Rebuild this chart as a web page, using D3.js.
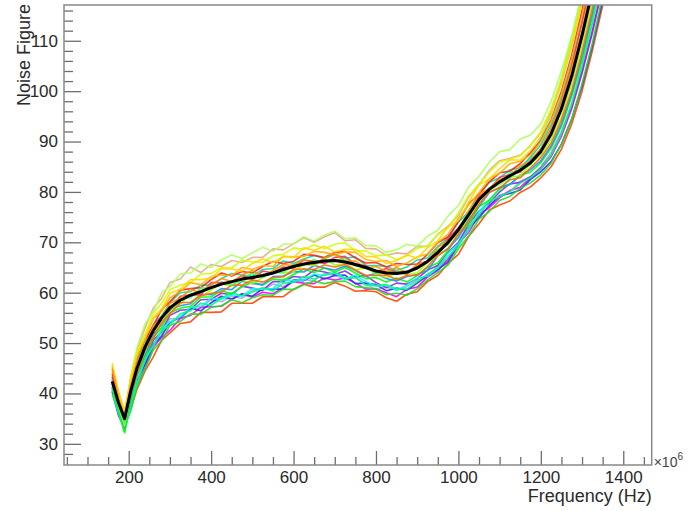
<!DOCTYPE html>
<html><head><meta charset="utf-8">
<script src="https://cdn.jsdelivr.net/npm/d3@7/dist/d3.min.js"></script>
<style>body{margin:0;background:#fff}svg{display:block}text{font-family:"Liberation Sans",Arial,Helvetica,sans-serif}</style>
</head><body><svg id="c" width="692" height="511"></svg>
<script>
// ---- data ----
const freqs = [160,175,190,205,220,240,260,280,300,325,350,375,400,425,450,475,500,525,550,575,600,625,650,675,700,725,750,775,800,825,850,875,900,925,950,975,1000,1025,1050,1075,1100,1125,1150,1175,1200,1225,1250,1275,1300,1325,1350];
const meanNF = [42.4,38.2,35.0,40.5,45.0,49.3,52.5,55.0,57.0,58.5,59.5,60.2,61.0,61.7,62.2,62.7,63.0,63.4,63.9,64.6,65.2,65.7,66.0,66.3,66.4,66.1,65.6,65.0,64.3,63.9,63.8,64.1,64.9,66.2,68.0,70.0,72.5,75.5,78.5,80.5,82.0,83.2,84.3,85.8,88.0,91.5,96.5,103.0,111.0,120.0,130.0];
const traceRed = [43.9,40.0,36.2,42.1,46.9,50.7,53.5,56.7,58.2,60.5,60.8,61.0,62.6,63.9,63.3,64.2,63.9,65.2,66.2,65.8,66.2,67.6,67.4,67.0,68.0,68.2,66.9,65.9,66.0,65.1,65.8,65.6,65.7,67.6,69.9,71.1,74.1,77.7,79.5,82.0,83.8,84.1,85.6,87.8,90.2,94.3,100.0,107.2,116.0,125.5,136.0];
const traceOrange = [44.9,39.2,35.3,41.7,45.8,49.5,53.5,54.8,57.9,58.9,60.7,59.9,61.6,62.8,62.2,63.5,64.4,63.2,64.4,65.6,65.4,66.6,65.6,66.9,67.7,66.2,66.3,64.9,65.2,64.2,65.0,63.9,65.5,66.2,69.0,70.4,72.2,76.3,79.6,80.7,82.5,83.1,85.2,86.1,88.6,92.5,97.7,104.5,112.0,122.0,131.5];
const traceYellow = [46.0,40.2,36.5,43.0,47.8,51.3,55.1,56.8,59.9,60.7,62.6,62.6,62.9,64.7,64.7,64.3,65.8,66.7,66.0,67.2,67.0,68.9,68.4,69.2,68.1,68.6,68.6,67.2,67.1,65.8,66.4,67.5,66.9,68.9,70.3,73.1,74.3,78.0,81.4,82.6,84.6,86.4,86.3,88.2,91.0,95.5,101.5,109.0,117.5,127.0,137.5];
const traceLime = [41.9,37.4,33.5,39.9,44.8,48.4,52.2,53.9,56.6,57.7,59.7,59.2,60.5,61.8,61.3,62.5,61.8,63.0,64.2,63.9,64.2,65.6,65.4,66.7,65.5,65.8,64.5,65.0,63.7,63.0,63.9,63.6,63.9,66.0,67.3,70.2,71.7,75.1,77.5,80.5,81.4,82.9,83.2,85.6,87.2,90.5,95.0,101.5,109.0,118.0,127.5];
const traceGreen = [41.4,36.7,32.2,38.7,43.8,47.3,51.1,53.1,56.0,56.9,57.3,59.1,59.2,60.4,59.8,61.2,62.1,61.5,62.7,62.5,63.6,64.7,64.0,64.9,64.1,65.0,63.9,62.8,63.0,62.1,62.9,62.1,63.4,65.0,65.9,68.4,71.5,73.6,77.1,78.3,80.7,81.5,83.3,83.9,85.8,88.7,93.0,99.0,106.2,114.8,124.4];
const traceTeal = [43.2,38.7,35.0,41.4,46.4,49.9,53.7,55.4,58.0,60.0,60.2,61.5,61.5,62.8,63.8,63.5,63.3,64.6,64.8,66.3,65.8,66.7,67.4,66.8,67.6,66.9,67.1,65.4,65.4,65.2,64.4,65.1,66.5,66.9,69.2,70.9,74.0,76.1,79.6,81.9,82.8,84.4,84.8,86.8,89.4,93.3,98.8,105.8,114.0,123.5,133.8];
const traceCyan = [40.9,36.2,32.5,37.7,43.0,46.7,49.5,52.8,54.2,55.2,57.1,57.3,58.9,58.7,59.6,59.3,60.8,60.7,60.8,62.6,62.4,62.5,63.7,63.4,63.9,62.6,63.5,62.2,61.3,61.5,60.5,61.5,62.9,63.3,64.9,67.8,69.7,72.5,76.0,78.5,80.5,82.7,84.6,87.0,90.5,95.5,102.5,110.5,119.5,129.5,140.0];
const traceBlue = [40.4,35.7,33.0,37.3,42.5,45.8,49.7,51.4,54.1,55.1,56.9,56.4,58.0,59.3,58.7,59.8,59.3,60.8,60.7,60.7,62.5,62.4,63.5,62.7,63.4,63.5,61.8,61.9,61.6,60.4,60.9,60.5,61.9,63.4,64.6,66.1,69.4,72.8,74.9,77.3,79.2,79.7,80.4,82.5,84.0,86.0,89.5,94.5,101.0,109.0,118.0];
const traceViolet = [41.2,37.4,33.5,38.3,43.4,46.8,50.6,52.3,55.5,56.5,56.7,58.6,58.7,59.9,59.6,61.3,60.9,60.5,62.2,62.2,63.2,63.0,64.5,64.1,63.6,64.3,63.1,63.4,62.0,61.0,61.9,61.7,62.8,64.5,65.4,68.0,70.0,73.7,76.2,77.8,80.0,81.6,81.9,83.0,84.8,87.3,91.5,97.0,104.0,112.0,121.0];
const traceMagenta = [40.4,37.0,34.0,37.5,41.5,45.1,49.2,51.1,52.5,54.9,55.5,57.1,57.2,57.3,58.7,59.7,59.1,60.1,59.8,61.0,62.2,61.9,61.8,62.9,62.5,62.9,61.9,60.7,60.8,60.0,59.2,60.7,61.1,63.1,64.4,66.7,69.7,72.0,75.5,76.9,78.8,80.3,80.9,82.8,84.5,87.0,91.0,96.5,103.5,111.5,120.5];
const traceTan = [44.4,39.7,35.8,43.0,48.5,53.1,57.0,58.9,62.0,62.7,65.1,64.0,65.6,65.2,66.4,66.0,67.0,67.0,68.7,68.5,69.7,70.9,70.0,71.1,71.9,70.3,70.5,68.8,68.7,67.4,67.9,67.7,69.2,69.2,71.6,73.2,75.3,79.0,81.5,84.3,86.2,86.7,87.3,89.2,91.8,96.0,102.0,109.5,118.5,128.0,138.5];
const traceBrightGreen = [42.7,37.9,34.2,40.7,44.6,49.9,52.3,55.5,56.4,58.8,59.0,60.9,60.9,62.1,61.5,62.9,63.8,63.0,64.0,64.0,65.7,65.5,66.6,65.8,66.4,66.8,65.3,65.4,63.7,64.1,64.3,63.7,65.2,66.1,68.6,69.5,72.7,76.3,78.2,80.9,81.8,83.8,84.4,85.4,88.3,91.5,97.0,103.0,110.5,120.5,130.0];
const traceDarkOrange = [42.9,38.2,34.5,39.7,43.7,48.7,51.0,54.1,55.8,58.0,58.1,59.4,59.9,60.1,61.5,61.5,62.5,62.1,63.0,63.1,64.6,64.7,64.6,65.5,65.1,65.6,64.5,63.4,63.4,63.5,62.6,63.4,63.4,65.2,67.4,68.7,71.7,74.1,77.6,80.0,80.8,82.4,82.8,84.8,86.8,89.7,94.3,100.2,107.8,116.5,126.0];
const traceSlate = [40.6,37.2,34.5,38.5,42.2,46.0,50.0,52.0,54.8,54.9,56.7,57.0,58.6,58.2,59.3,58.9,60.4,60.4,61.7,61.2,62.5,62.6,62.4,63.8,63.4,62.7,63.0,61.8,60.6,61.1,60.5,61.2,62.5,63.1,65.4,66.5,69.6,73.2,75.5,77.1,79.4,80.1,82.1,83.0,85.0,87.9,92.0,97.5,105.0,113.5,123.0];
const traceLightGreen = [43.9,39.4,35.5,43.5,49.0,53.9,56.3,60.0,61.2,63.7,63.9,65.7,65.0,66.5,67.5,66.8,67.9,69.0,68.2,69.6,69.7,71.1,70.2,71.4,72.2,70.7,70.9,69.4,69.3,68.0,68.5,69.6,69.2,71.2,72.4,75.2,77.3,81.0,83.1,85.9,88.0,88.4,90.5,91.3,93.5,98.0,104.0,111.0,119.5,129.0,139.5];
const traceOrangeRed = [40.9,37.2,34.7,37.0,40.8,44.5,47.3,50.6,52.0,53.9,54.2,56.1,56.1,56.2,57.9,57.9,57.9,59.2,59.2,59.2,60.7,61.7,61.1,61.1,62.0,61.3,60.3,60.4,60.2,59.0,58.3,59.7,60.2,62.2,63.4,65.8,67.6,71.2,73.7,76.4,77.4,78.2,79.9,81.0,82.8,85.0,88.5,93.5,100.0,108.0,117.0];
const traceGreen2 = [39.9,36.2,33.5,36.5,41.4,44.9,48.7,50.4,53.5,54.3,55.8,55.7,57.1,57.4,58.6,58.0,59.0,59.6,59.5,60.7,60.6,61.6,62.3,61.8,62.2,62.3,61.2,61.0,60.7,59.6,59.9,59.5,60.8,62.5,64.0,65.5,68.7,71.3,74.6,76.1,78.3,79.1,80.7,81.8,83.4,85.7,89.5,94.5,101.5,109.5,119.0];
const traceYellowGreen = [45.2,40.0,36.0,42.7,48.2,51.9,55.9,57.9,60.6,61.5,62.0,63.7,63.8,65.0,64.9,66.5,66.1,66.0,67.3,67.6,68.9,68.6,69.5,68.7,69.6,69.9,68.3,68.3,67.3,67.5,66.6,67.3,68.8,69.3,71.5,72.9,75.8,79.3,81.5,83.9,85.9,86.5,87.2,89.3,92.0,96.5,102.5,110.0,118.5,128.0,138.5];
const traceSkyBlue = [41.9,37.2,33.2,39.3,44.4,47.8,51.7,53.7,56.7,57.4,57.8,59.7,59.6,60.8,60.6,62.3,61.8,61.6,63.2,63.3,64.2,64.1,65.4,64.9,64.5,65.3,64.4,63.3,63.8,62.8,62.3,63.2,63.6,64.4,67.3,68.8,70.9,74.6,77.1,79.9,80.9,81.5,83.3,84.4,86.2,89.1,93.5,99.5,107.0,115.5,125.0];
const traceGold = [45.4,40.4,36.2,42.0,47.1,50.9,54.9,56.3,59.0,60.2,62.0,61.6,63.2,63.5,63.4,65.0,64.6,65.4,65.2,67.2,67.1,67.2,68.2,68.0,67.5,68.1,68.0,66.6,66.2,66.4,65.2,65.9,67.1,67.7,70.0,71.6,74.8,77.4,79.9,82.6,83.7,85.6,86.1,87.3,90.0,94.0,99.5,106.5,115.0,124.5,135.0];
const traceSpring = [41.4,36.7,32.5,38.0,41.8,46.9,49.5,52.4,53.6,55.8,56.4,57.9,57.5,58.9,60.0,59.4,60.1,61.0,60.3,61.9,62.1,63.2,62.7,63.5,64.0,62.9,63.0,61.5,61.4,61.6,60.8,60.7,62.2,63.7,64.9,67.2,69.2,72.9,75.5,78.1,79.1,80.0,81.7,82.8,84.6,87.3,91.5,97.5,105.0,113.5,123.0];
const tracePink = [43.4,38.7,35.0,40.5,45.6,49.0,53.4,55.2,56.5,59.3,59.6,59.6,62.0,62.0,62.0,63.4,62.6,64.3,63.9,65.1,64.9,66.5,66.2,65.8,67.0,67.2,65.6,65.4,64.1,64.8,64.1,63.7,65.6,66.3,67.7,70.8,72.9,75.4,79.1,80.5,82.9,83.4,83.9,86.3,88.5,92.5,98.0,105.0,113.5,123.0,133.0];
const traces = [traceSlate,traceMagenta,traceOrangeRed,traceBlue,traceViolet,traceGreen2,traceCyan,traceTan,traceSpring,traceTeal,traceLightGreen,traceGreen,traceSkyBlue,traceRed,traceYellowGreen,traceLime,traceDarkOrange,traceGold,traceYellow,traceBrightGreen,tracePink,traceOrange];
const traceColors = ["#a8acd8","#ff00ff","#ff4500","#2a2aff","#8a2be2","#20e020","#00ffff","#e8a888","#00ff80","#00e0a0","#b0ff60","#00ff00","#1e90ff","#ff2020","#d0ff00","#9cff00","#ff6a00","#ffb000","#ffd800","#40ff60","#ff3060","#ff9000"];
const yTicks = [30,40,50,60,70,80,90,100,110];
const yMinor = [28,32,34,36,38,42,44,46,48,52,54,56,58,62,64,66,68,72,74,76,78,82,84,86,88,92,94,96,98,102,104,106,108,112,114,116];
const xTicks = [200,400,600,800,1000,1200,1400];
const xMinor = [50,100,150,250,300,350,450,500,550,650,700,750,850,900,950,1050,1100,1150,1250,1300,1350,1450];

// ---- layout ----
const L=64, R=651.7, T=5, B=465;
const svg = d3.select("#c");
const x = d3.scaleLinear().domain([43,1469]).range([L,R]);
const y = d3.scaleLinear().domain([25.8,117.1]).range([B,T]);

svg.append("defs").append("clipPath").attr("id","clip")
  .append("rect").attr("x",L).attr("y",T).attr("width",R-L).attr("height",B-T);

const plot = svg.append("g").attr("clip-path","url(#clip)");
const line = d3.line().x((d,i)=>x(freqs[i])).y(d=>y(d));
plot.selectAll("path.trace").data(traces).join("path")
  .attr("class","trace").attr("d",line).attr("fill","none")
  .attr("stroke",(d,i)=>traceColors[i]).attr("stroke-width",1.6)
  .attr("stroke-linejoin","round").attr("opacity",0.9);
plot.append("path").datum(meanNF).attr("d",line).attr("fill","none")
  .attr("stroke","#000").attr("stroke-width",3).attr("stroke-linejoin","round");

// axes
const tickColor="#6e6e6e";
function style(g){
  g.select(".domain").remove();
  g.selectAll(".tick line").attr("stroke",tickColor).attr("stroke-width",1.3);
  g.selectAll(".tick text").attr("fill","#2a2a2a").style("font-size","17px");
}
svg.append("g").attr("transform",`translate(0,${B})`)
  .call(d3.axisBottom(x).tickValues(xMinor).tickSizeInner(-8).tickSizeOuter(0).tickFormat(""))
  .call(style);
svg.append("g").attr("transform",`translate(0,${B})`)
  .call(d3.axisBottom(x).tickValues(xTicks).tickSizeInner(-14).tickSizeOuter(0).tickPadding(6).tickFormat(d3.format("d")))
  .call(style);
svg.append("g").attr("transform",`translate(${L},0)`)
  .call(d3.axisLeft(y).tickValues(yMinor).tickSizeInner(-9).tickSizeOuter(0).tickFormat(""))
  .call(style);
svg.append("g").attr("transform",`translate(${L},0)`)
  .call(d3.axisLeft(y).tickValues(yTicks).tickSizeInner(-17).tickSizeOuter(0).tickPadding(6).tickFormat(d3.format("d")))
  .call(style);

// frame
svg.append("rect").attr("x",L).attr("y",T).attr("width",R-L).attr("height",B-T)
  .attr("fill","none").attr("stroke","#888").attr("stroke-width",1.5);

// titles
svg.append("text").attr("x",R).attr("y",502).attr("text-anchor","end")
  .attr("fill","#2a2a2a").style("font-size","18px").text("Frequency (Hz)");
svg.append("text").attr("transform",`translate(29.5,${T-1}) rotate(-90)`).attr("text-anchor","end")
  .attr("fill","#2a2a2a").style("font-size","18px").text("Noise Figure");
const e = svg.append("text").attr("x",R+2).attr("y",467).attr("fill","#444").style("font-size","14px");
e.append("tspan").text("×10");
e.append("tspan").attr("dy",-7).style("font-size","10px").text("6");
</script></body></html>
